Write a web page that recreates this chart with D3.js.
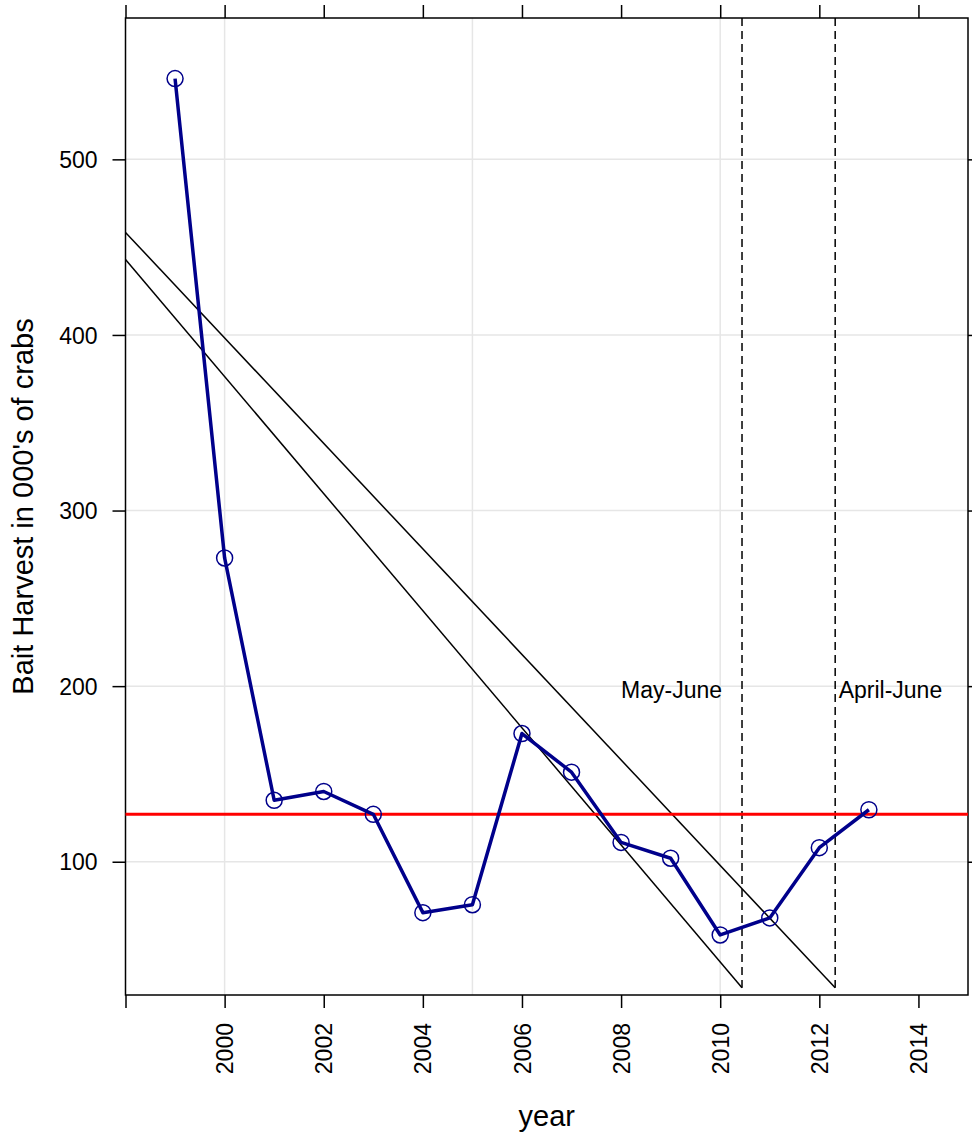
<!DOCTYPE html>
<html>
<head>
<meta charset="utf-8">
<script src="https://cdn.jsdelivr.net/npm/d3@7"></script>
<style>
  body { margin: 0; background: #fff; }
  svg { display: block; font-family: "Liberation Sans", Arial, sans-serif; }
</style>
</head>
<body>
<svg id="chart" width="972" height="1137"></svg>
<script>
// ---- data ----
const years = [1999, 2000, 2001, 2002, 2003, 2004, 2005, 2006, 2007, 2008, 2009, 2010, 2011, 2012, 2013];
const harvest = [546, 273, 135, 140, 127, 71, 75.5, 173, 151, 111, 102, 58.3, 68, 108, 129.6];
const medianLine = 127;
const trendStartX = [1998, 1998];
const trendStartY = [458.4, 443.0];
const trendEndX = [2012.32, 2010.44];
const trendEndY = [28.2, 28.2];
const seasonBreaks = [2010.44, 2012.32];
const seasonLabels = ["May-June", "April-June"];
const seasonLabelX = [2008, 2012.39];
const seasonLabelY = [193, 193];
const xTicks = [1998, 2000, 2002, 2004, 2006, 2008, 2010, 2012, 2014];
const xTickLabels = ["", "2000", "2002", "2004", "2006", "2008", "2010", "2012", "2014"];
const yTicks = [100, 200, 300, 400, 500];
const xGrid = [2000, 2005, 2010];
const xDomain = [1998, 2015];
const yDomain = [24.1, 580.5];

// ---- layout ----
const L = 125.5, R = 968, T = 18, B = 995;
const svg = d3.select("#chart");
const x = d3.scaleLinear().domain(xDomain).range([L, R]);
const y = d3.scaleLinear().domain(yDomain).range([B, T]);

// grid
const grid = svg.append("g").attr("stroke", "#e6e6e6").attr("stroke-width", 1.5);
grid.selectAll(".gx").data(xGrid).join("line")
  .attr("x1", d => x(d)).attr("x2", d => x(d)).attr("y1", T).attr("y2", B);
grid.selectAll(".gy").data(yTicks).join("line")
  .attr("x1", L).attr("x2", R).attr("y1", d => y(d)).attr("y2", d => y(d));

// axes (lattice style: ticks on all sides)
const axB = d3.axisBottom(x).tickValues(xTicks).tickSize(13).tickFormat((d, i) => xTickLabels[i]);
const axT = d3.axisTop(x).tickValues(xTicks).tickSize(13).tickFormat("");
const axL = d3.axisLeft(y).tickValues(yTicks).tickSize(13).tickPadding(15).tickFormat(d3.format("d"));
const axR = d3.axisRight(y).tickValues(yTicks).tickSize(7).tickFormat("");

function styleAxis(g) {
  g.select(".domain").remove();
  g.selectAll(".tick line").attr("stroke", "#000").attr("stroke-width", 1.5);
  g.selectAll("text").attr("font-size", 23).attr("fill", "#000")
    .attr("font-family", "Liberation Sans, Arial, sans-serif");
}
const gB = svg.append("g").attr("transform", `translate(0,${B})`).call(axB).call(styleAxis);
gB.selectAll(".tick text")
  .attr("transform", "translate(0,28) rotate(-90)")
  .attr("text-anchor", "end").attr("x", 0).attr("y", 0).attr("dy", "0.35em");
svg.append("g").attr("transform", `translate(0,${T})`).call(axT).call(styleAxis);
const gL = svg.append("g").attr("transform", `translate(${L},0)`).call(axL).call(styleAxis);
gL.selectAll(".tick text").attr("dy", "0.35em");
svg.append("g").attr("transform", `translate(${R},0)`).call(axR).call(styleAxis);

// frame
svg.append("rect").attr("x", L).attr("y", T).attr("width", R - L).attr("height", B - T)
  .attr("fill", "none").attr("stroke", "#000").attr("stroke-width", 1.5);

// trend lines
svg.append("g").selectAll("line").data(trendStartX).join("line")
  .attr("x1", (d, i) => x(trendStartX[i])).attr("y1", (d, i) => y(trendStartY[i]))
  .attr("x2", (d, i) => x(trendEndX[i])).attr("y2", (d, i) => y(trendEndY[i]))
  .attr("stroke", "#000").attr("stroke-width", 1.5);

// season break dashed lines
svg.append("g").selectAll("line").data(seasonBreaks).join("line")
  .attr("x1", d => x(d)).attr("x2", d => x(d))
  .attr("y1", T).attr("y2", y(trendEndY[0]))
  .attr("stroke", "#000").attr("stroke-width", 1.5).attr("stroke-dasharray", "8,5");

// season labels
svg.append("g").selectAll("text").data(seasonLabels).join("text")
  .attr("x", (d, i) => x(seasonLabelX[i])).attr("y", (d, i) => y(seasonLabelY[i]))
  .attr("font-size", 23).attr("fill", "#000").text(d => d);

// median line
svg.append("line").attr("x1", L).attr("x2", R)
  .attr("y1", y(medianLine)).attr("y2", y(medianLine))
  .attr("stroke", "#ff0000").attr("stroke-width", 3);

// series
const pts = years.map((yr, i) => [yr, harvest[i]]);
svg.append("path").datum(pts)
  .attr("d", d3.line().x(d => x(d[0])).y(d => y(d[1])))
  .attr("fill", "none").attr("stroke", "#00008B").attr("stroke-width", 3.5)
  .attr("stroke-linejoin", "round");
svg.append("g").selectAll("circle").data(pts).join("circle")
  .attr("cx", d => x(d[0])).attr("cy", d => y(d[1])).attr("r", 8)
  .attr("fill", "none").attr("stroke", "#00008B").attr("stroke-width", 1.5);

// axis titles
svg.append("text").attr("x", (L + R) / 2).attr("y", 1126)
  .attr("text-anchor", "middle").attr("font-size", 29).attr("fill", "#000").text("year");
svg.append("text").attr("transform", `translate(33,${(T + B) / 2}) rotate(-90)`)
  .attr("text-anchor", "middle").attr("font-size", 29).attr("fill", "#000")
  .text("Bait Harvest in 000's of crabs");
</script>
</body>
</html>
